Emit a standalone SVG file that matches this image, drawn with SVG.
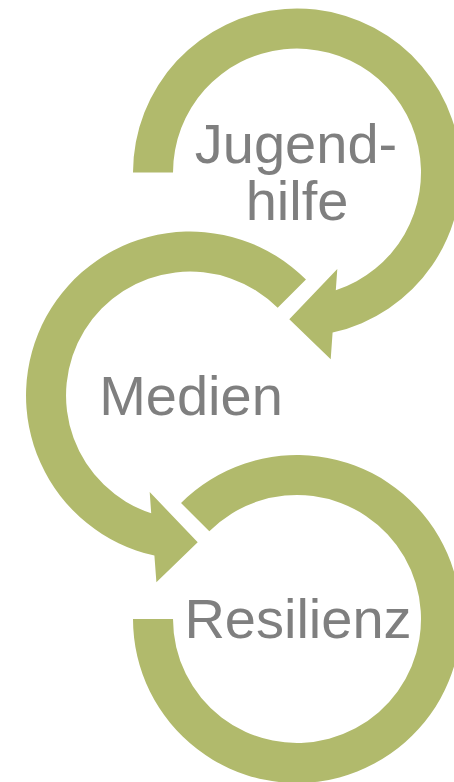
<svg xmlns="http://www.w3.org/2000/svg" width="454" height="782" viewBox="0 0 454 782">
<style>
.arrow{fill:#B1BA6C;stroke:none}
.lbl{font-family:"Liberation Sans",Arial,sans-serif;font-size:56px;fill:#7F7F7F;text-anchor:middle}
</style>
<rect width="454" height="782" fill="#FFFFFF"/>
<g id="connectors">
<path id="arrow1" class="arrow" d="M133,172.5 A164,164 0 1 1 332.6,332.6 L330.7,359.3 L289.3,319.3 L337.3,269 L335.8,290.3 A124,124 0 1 0 173,172.5 Z"/>
<path id="arrow2" class="arrow" d="M305.97,279.53 A164,164 0 1 0 154.4,555.6 L156.4,582.3 L197.7,542.3 L149.7,492 L151.2,513.3 A124,124 0 1 1 277.68,307.82 Z"/>
<path id="arrow3" class="arrow" d="M181.03,503.03 A164,164 0 1 1 133,619 L173,619 A124,124 0 1 0 209.32,531.32 Z"/>
</g>
<g id="node-jugendhilfe">
<text class="lbl" x="296" y="163">Jugend-</text>
<text class="lbl" x="297" y="220">hilfe</text>
</g>
<g id="node-medien">
<text class="lbl" x="191" y="414.5">Medien</text>
</g>
<g id="node-resilienz">
<text class="lbl" x="298" y="638">Resilienz</text>
</g>
</svg>
